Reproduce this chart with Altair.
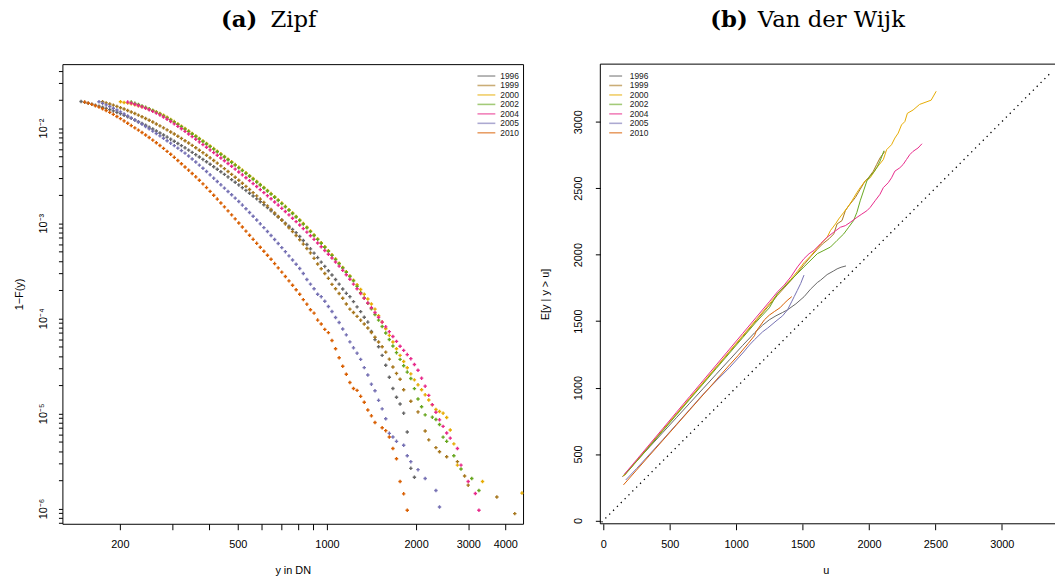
import altair as alt
import pandas as pd

FONT = "Liberation Sans"
SERIF = "DejaVu Serif"

YEARS = ["1996", "1999", "2000", "2002", "2004", "2005", "2010"]
PALETTE = ["#666666", "#A6761D", "#E6AB02", "#66A61E", "#E7298A", "#7570B3", "#D95F02"]

# log10 of the DN bin positions used for the tail estimate
log_dn = [
    2.1700, 2.1821, 2.1942, 2.2063, 2.2184, 2.2305, 2.2426, 2.2547, 2.2668, 2.2789,
    2.2910, 2.3031, 2.3152, 2.3273, 2.3394, 2.3515, 2.3636, 2.3757, 2.3878, 2.3999,
    2.4120, 2.4241, 2.4362, 2.4483, 2.4604, 2.4725, 2.4846, 2.4967, 2.5088, 2.5209,
    2.5330, 2.5451, 2.5572, 2.5693, 2.5814, 2.5935, 2.6056, 2.6177, 2.6298, 2.6419,
    2.6540, 2.6661, 2.6782, 2.6903, 2.7024, 2.7145, 2.7266, 2.7387, 2.7508, 2.7629,
    2.7750, 2.7871, 2.7992, 2.8113, 2.8234, 2.8355, 2.8476, 2.8597, 2.8718, 2.8839,
    2.8960, 2.9081, 2.9202, 2.9323, 2.9444, 2.9565, 2.9686, 2.9807, 2.9928, 3.0049,
    3.0170, 3.0291, 3.0412, 3.0533, 3.0654, 3.0775, 3.0896, 3.1017, 3.1138, 3.1259,
    3.1380, 3.1501, 3.1622, 3.1743, 3.1864, 3.1985, 3.2106, 3.2227, 3.2348, 3.2469,
    3.2590, 3.2711, 3.2832, 3.2953, 3.3074, 3.3195, 3.3316, 3.3437, 3.3558, 3.3679,
    3.3800, 3.3921, 3.4042, 3.4163, 3.4284, 3.4405, 3.4526, 3.4647, 3.4768, 3.4889,
    3.5010, 3.5131, 3.5252, 3.5373, 3.5494, 3.5615, 3.5736, 3.5857, 3.5978, 3.6099,
    3.6220, 3.6341, 3.6462, 3.6583,
]

# log10(1 - F(y)) per bin, starting at bin index *_first (None = empty bin)
zipf_1996_first = 0
zipf_1996 = [
    -1.721, -1.730, -1.739, -1.749, -1.759, -1.770, -1.781, -1.793, -1.806, -1.820,
    -1.834, -1.849, -1.865, -1.881, -1.898, -1.915, -1.933, -1.951, -1.970, -1.990,
    -2.010, -2.031, -2.052, -2.073, -2.095, -2.117, -2.139, -2.162, -2.185, -2.208,
    -2.232, -2.256, -2.280, -2.305, -2.330, -2.355, -2.381, -2.407, -2.433, -2.460,
    -2.487, -2.514, -2.542, -2.570, -2.598, -2.627, -2.656, -2.685, -2.715, -2.745,
    -2.775, -2.806, -2.837, -2.869, -2.904, -2.935, -2.967, -3.000, -3.033, -3.066,
    -3.100, -3.140, -3.182, -3.225, -3.270, -3.315, -3.362, -3.410, -3.455, -3.500,
    -3.545, -3.592, -3.641, -3.693, -3.738, -3.773, -3.825, -3.880, -3.930, -3.990,
    -4.040, -4.138, -4.225, -4.300, -4.390, -4.494, -4.620, -4.738, -4.831, -4.901,
    -4.998, -5.196, -5.578, -5.672,
]

zipf_1999_first = 6
zipf_1999 = [
    -1.724, -1.735, -1.747, -1.759, -1.772, -1.786, -1.800, -1.815, -1.831, -1.847,
    -1.864, -1.881, -1.899, -1.918, -1.937, -1.957, -1.977, -1.998, -2.019, -2.041,
    -2.063, -2.086, -2.109, -2.133, -2.157, -2.182, -2.207, -2.233, -2.259, -2.286,
    -2.313, -2.341, -2.369, -2.398, -2.427, -2.457, -2.487, -2.518, -2.549, -2.581,
    -2.613, -2.646, -2.679, -2.713, -2.747, -2.782, -2.818, -2.855, -2.892, -2.930,
    -2.969, -3.008, -3.048, -3.089, -3.130, -3.175, -3.220, -3.266, -3.313, -3.370,
    -3.430, -3.480, -3.530, -3.580, -3.644, -3.690, -3.740, -3.790, -3.850, -3.904,
    -3.940, -3.980, -4.020, -4.060, -4.102, -4.150, -4.200, -4.250, -4.300, -4.356,
    -4.430, -4.513, -4.580, -4.641, -4.752, None, -4.873, None, -4.985, None,
    -5.185, -5.279, None, -5.360, -5.404, None, -5.456, None, None, -5.508,
    None, -5.658, -5.755, None, None, None, None, None, None, None,
    -5.880, None, None, None, None, -6.054,
]

zipf_2000_first = 11
zipf_2000 = [
    -1.724, -1.731, -1.738, -1.746, -1.755, -1.765, -1.776, -1.788, -1.801, -1.815,
    -1.830, -1.846, -1.866, -1.887, -1.909, -1.932, -1.956, -1.980, -2.005, -2.031,
    -2.057, -2.083, -2.109, -2.135, -2.162, -2.189, -2.216, -2.243, -2.271, -2.299,
    -2.327, -2.355, -2.384, -2.413, -2.442, -2.471, -2.501, -2.531, -2.562, -2.593,
    -2.624, -2.656, -2.689, -2.722, -2.755, -2.789, -2.823, -2.858, -2.893, -2.929,
    -2.966, -3.004, -3.043, -3.083, -3.124, -3.165, -3.206, -3.248, -3.290, -3.333,
    -3.377, -3.421, -3.465, -3.510, -3.555, -3.601, -3.648,
    -3.697, -3.747, -3.798, -3.850, -3.904, -3.972, -4.040, -4.110, -4.180, -4.250,
    -4.321, -4.390, -4.455, -4.520, -4.585, -4.648, -4.700, -4.752, -4.805, -4.860,
    -4.910, -4.960, -4.980, -4.998, -5.044, -5.175, -5.321, -5.544, None, None,
    None, None, None, None, -5.717, None, None, None, None, None,
    None, None, None, None, None, -5.838,
]

zipf_2002_first = 14
zipf_2002 = [
    -1.727, -1.740, -1.753, -1.767, -1.782, -1.798, -1.815, -1.833, -1.852, -1.872,
    -1.893, -1.915, -1.938, -1.962, -1.986, -2.011, -2.037, -2.063, -2.089, -2.115,
    -2.141, -2.168, -2.195, -2.222, -2.249, -2.277, -2.305, -2.333, -2.361, -2.390,
    -2.419, -2.448, -2.477, -2.507, -2.537, -2.568, -2.599, -2.630, -2.662, -2.695,
    -2.728, -2.761, -2.795, -2.829, -2.864, -2.899, -2.935, -2.972, -3.010, -3.049,
    -3.089, -3.130, -3.171, -3.212, -3.254, -3.296, -3.339, -3.383, -3.427, -3.471,
    -3.516, -3.561, -3.607, -3.665, -3.731, -3.787, -3.843, -3.900, -3.960, -4.019,
    -4.087, -4.155, -4.223, -4.292, -4.362, -4.432, -4.500, -4.566, -4.633, -4.740,
    -4.849, -4.930, -5.016, None, -5.040, -5.064, -5.117, -5.250, -5.294, None,
    -5.446, None, -5.585, None, None, -5.685, None, -5.811,
]

zipf_2004_first = 13
zipf_2004 = [
    -1.727, -1.738, -1.750, -1.763, -1.777, -1.792, -1.808, -1.825, -1.843, -1.862,
    -1.884, -1.907, -1.931, -1.956, -1.982, -2.008, -2.035, -2.062, -2.090, -2.118,
    -2.146, -2.174, -2.202, -2.230, -2.258, -2.286, -2.315, -2.344, -2.373, -2.402,
    -2.432, -2.462, -2.492, -2.522, -2.553, -2.584, -2.615, -2.647, -2.679, -2.711,
    -2.744, -2.777, -2.810, -2.844, -2.878, -2.913, -2.948, -2.984, -3.020, -3.057,
    -3.094, -3.132, -3.170, -3.209, -3.248, -3.287, -3.327, -3.367, -3.408, -3.452,
    -3.496, -3.542, -3.590, -3.641, -3.690, -3.740, -3.790, -3.840, -3.890, -3.940,
    -3.990, -4.040, -4.090, -4.141, -4.192, -4.243, -4.294, -4.338, -4.382, -4.425,
    -4.486, -4.547, -4.630, -4.714, -4.811, -4.908, -4.988, -5.068, -5.137, -5.206,
    -5.260, None, -5.370, -5.544, None, -5.717, None, -5.842, -6.019,
]

zipf_2005_first = 5
zipf_2005 = [
    -1.724, -1.740, -1.757, -1.774, -1.792, -1.810, -1.830, -1.851, -1.872, -1.893,
    -1.915, -1.937, -1.960, -1.984, -2.008, -2.032, -2.057, -2.082, -2.107, -2.133,
    -2.159, -2.185, -2.211, -2.237, -2.264, -2.294, -2.325, -2.357, -2.390, -2.423,
    -2.457, -2.492, -2.527, -2.562, -2.597, -2.632, -2.667, -2.702, -2.737, -2.772,
    -2.810, -2.849, -2.888, -2.927, -2.967, -3.007, -3.047, -3.088, -3.130, -3.172,
    -3.214, -3.257, -3.300, -3.344, -3.388, -3.432, -3.477, -3.529, -3.592, -3.641,
    -3.690, -3.748, -3.773, -3.821, -3.877, -3.929, -3.992, -4.044, -4.113, -4.175,
    -4.248, -4.311, -4.367, -4.432, -4.519, -4.596, -4.693, -4.762, -4.863, -4.953,
    -5.057, -5.210, -5.248, -5.294, None, -5.335, -5.446, -5.508, None, -5.592,
    None, -5.685, None, None, -5.811, -5.985,
]

zipf_2010_first = 1
zipf_2010 = [
    -1.727, -1.738, -1.751, -1.765, -1.780, -1.797, -1.815, -1.835, -1.856, -1.878,
    -1.901, -1.925, -1.950, -1.974, -1.998, -2.022, -2.047, -2.073, -2.100, -2.127,
    -2.155, -2.184, -2.214, -2.245, -2.276, -2.308, -2.341, -2.375, -2.409, -2.443,
    -2.478, -2.513, -2.549, -2.587, -2.626, -2.666, -2.706, -2.747, -2.788, -2.829,
    -2.871, -2.913, -2.955, -2.998, -3.041, -3.084, -3.127, -3.170, -3.212, -3.254,
    -3.296, -3.338, -3.380, -3.425, -3.470, -3.515, -3.561, -3.607, -3.653, -3.700,
    -3.748, -3.804, -3.852, -3.911, -3.946, -4.019, -4.061, -4.117, -4.151, -4.234,
    -4.321, -4.415, -4.505, -4.589, -4.675, -4.738, -4.758, -4.821, -4.883, -4.964,
    -5.026, -5.096, None, -5.151, -5.182, -5.248, -5.370, -5.477, -5.717, -5.846,
    -6.019,
]

# mean excess E[y | y > u] against threshold u
vdw_1996_u = [144, 250, 350, 450, 550, 650, 750, 850, 950, 1050, 1138, 1200, 1250,
              1300, 1350, 1387, 1450, 1512, 1560, 1611, 1636, 1685, 1735, 1760, 1790, 1827]
vdw_1996_v = [330, 446, 555, 664, 773, 882, 991, 1100, 1209, 1318, 1411, 1470, 1510,
              1540, 1565, 1585, 1630, 1684, 1740, 1790, 1808, 1850, 1878, 1893, 1905, 1915]

vdw_1999_u = [150, 250, 350, 450, 550, 650, 750, 850, 950, 1050, 1150, 1250, 1312, 1362,
              1412, 1462, 1511, 1561, 1611, 1650, 1700, 1735, 1760, 1797, 1822, 1847, 1897,
              1934, 1971, 1996, 2033, 2058, 2083, 2120]
vdw_1999_v = [332, 448, 565, 683, 800, 917, 1034, 1151, 1268, 1385, 1502, 1620, 1695, 1750,
              1805, 1862, 1925, 1985, 2040, 2080, 2120, 2156, 2231, 2256, 2330, 2367, 2429,
              2492, 2554, 2578, 2628, 2678, 2727, 2777]

vdw_2000_u = [150, 250, 350, 450, 550, 650, 750, 850, 950, 1050, 1150, 1250, 1312, 1362,
              1412, 1462, 1511, 1561, 1611, 1650, 1685, 1710, 1748, 1772, 1810, 1847, 1872,
              1909, 1934, 1971, 2009, 2058, 2108, 2133, 2170, 2195, 2220, 2245, 2270, 2289,
              2332, 2381, 2468, 2506]
vdw_2000_v = [333, 447, 565, 683, 801, 919, 1037, 1155, 1273, 1391, 1510, 1630, 1705, 1760,
              1815, 1875, 1940, 1990, 2050, 2095, 2131, 2181, 2231, 2268, 2318, 2367, 2405,
              2467, 2504, 2554, 2578, 2653, 2715, 2790, 2827, 2877, 2914, 2976, 3001, 3063,
              3088, 3130, 3162, 3229]

vdw_2002_u = [160, 250, 350, 450, 550, 650, 750, 850, 950, 1050, 1150, 1250, 1312, 1412,
              1511, 1611, 1661, 1710, 1760, 1810, 1847, 1884, 1909, 1934, 1959, 1984, 2009,
              2033, 2058, 2083, 2113]
vdw_2002_v = [340, 444, 560, 677, 793, 910, 1026, 1143, 1259, 1376, 1492, 1600, 1709, 1808,
              1908, 2007, 2032, 2057, 2107, 2156, 2206, 2256, 2318, 2405, 2479, 2554, 2591,
              2616, 2653, 2703, 2782]

vdw_2004_u = [160, 250, 350, 450, 550, 650, 750, 850, 950, 1050, 1150, 1250, 1312, 1362,
              1412, 1462, 1511, 1549, 1586, 1636, 1685, 1735, 1785, 1822, 1859, 1909, 1946,
              1984, 2009, 2046, 2083, 2108, 2145, 2170, 2195, 2232, 2257, 2282, 2307, 2332,
              2369, 2399]
vdw_2004_v = [349, 456, 575, 694, 813, 932, 1051, 1170, 1289, 1408, 1527, 1646, 1721, 1771,
              1833, 1908, 1970, 2007, 2032, 2082, 2131, 2169, 2206, 2218, 2243, 2280, 2305,
              2330, 2355, 2405, 2454, 2504, 2541, 2578, 2628, 2653, 2678, 2715, 2752, 2777,
              2802, 2834]

vdw_2005_u = [169, 250, 350, 450, 550, 650, 750, 850, 950, 1050, 1100, 1138, 1200, 1238,
              1300, 1350, 1387, 1420, 1437, 1460, 1486, 1511]
vdw_2005_v = [305, 390, 500, 610, 722, 835, 948, 1050, 1150, 1260, 1320, 1360, 1420, 1448,
              1500, 1540, 1585, 1650, 1684, 1730, 1783, 1846]

vdw_2010_u = [152, 250, 350, 450, 550, 650, 750, 850, 950, 1014, 1089, 1138, 1151, 1213,
              1250, 1288, 1330, 1362, 1390, 1419]
vdw_2010_v = [268, 379, 492, 605, 718, 831, 944, 1057, 1170, 1240, 1330, 1390, 1423, 1510,
              1545, 1572, 1600, 1634, 1660, 1684]

# axis ticks
x_ticks_zipf = [200, 300, 400, 500, 600, 700, 800, 900, 1000, 2000, 3000, 4000]
x_labels_zipf = [200, 500, 1000, 2000, 3000, 4000]
y_ticks_zipf = [0.04, 0.03, 0.02, 0.01,
                0.009, 0.008, 0.007, 0.006, 0.005, 0.004, 0.003, 0.002, 0.001,
                0.0009, 0.0008, 0.0007, 0.0006, 0.0005, 0.0004, 0.0003, 0.0002, 0.0001,
                0.00009, 0.00008, 0.00007, 0.00006, 0.00005, 0.00004, 0.00003, 0.00002, 0.00001,
                0.000009, 0.000008, 0.000007, 0.000006, 0.000005, 0.000004, 0.000003, 0.000002,
                0.000001, 0.0000009, 0.0000008, 0.0000007]
vdw_ticks = [0, 500, 1000, 1500, 2000, 2500, 3000]

# ---------------------------------------------------------------- tables
zipf_series = [
    ("1996", zipf_1996_first, zipf_1996),
    ("1999", zipf_1999_first, zipf_1999),
    ("2000", zipf_2000_first, zipf_2000),
    ("2002", zipf_2002_first, zipf_2002),
    ("2004", zipf_2004_first, zipf_2004),
    ("2005", zipf_2005_first, zipf_2005),
    ("2010", zipf_2010_first, zipf_2010),
]
rows = []
for year, first, vals in zipf_series:
    for i, lv in enumerate(vals):
        if lv is None:
            continue
        rows.append({"year": year, "dn": 10 ** log_dn[first + i], "ccdf": 10 ** lv})
zipf_df = pd.DataFrame(rows)

vdw_series = [
    ("1996", vdw_1996_u, vdw_1996_v),
    ("1999", vdw_1999_u, vdw_1999_v),
    ("2000", vdw_2000_u, vdw_2000_v),
    ("2002", vdw_2002_u, vdw_2002_v),
    ("2004", vdw_2004_u, vdw_2004_v),
    ("2005", vdw_2005_u, vdw_2005_v),
    ("2010", vdw_2010_u, vdw_2010_v),
]
rows = []
for year, us, vs in vdw_series:
    for i, (u, v) in enumerate(zip(us, vs)):
        rows.append({"year": year, "u": u, "v": v, "i": i})
vdw_df = pd.DataFrame(rows)

one = pd.DataFrame({"k": [0]})

# ---------------------------------------------------------------- sizes
W_L, W_R, H = 465, 455, 464

color = alt.Color("year:N", scale=alt.Scale(domain=YEARS, range=PALETTE), legend=None)

axis_common = dict(
    grid=False, domain=False, tickColor="black", tickWidth=1,
    labelColor="black", titleColor="black", labelFont=FONT, titleFont=FONT,
    labelFontSize=11, titleFontSize=11, titleFontWeight="normal",
    labelOverlap=False, labelFlush=False, labelBound=False,
)


def legend_layers(x_line, x_line2, x_text):
    """Small line legend drawn inside the panel's top corner."""
    out = []
    for row, (yr, col) in enumerate(zip(YEARS, PALETTE)):
        py = 12 + 9.55 * row
        out.append(alt.Chart(one).mark_rule(color=col, strokeWidth=1.6, opacity=0.6).encode(
            x=alt.value(x_line), x2=alt.value(x_line2), y=alt.value(py)))
        out.append(alt.Chart(one).mark_text(
            text=yr, align="left", baseline="middle", font=FONT, fontSize=8.5, color="#222222"
        ).encode(x=alt.value(x_text), y=alt.value(py)))
    return out


def heading(tag, name, x_tag, x_name):
    a = alt.Chart(one).mark_text(
        text=tag, font=SERIF, fontSize=23, fontWeight="bold", align="left",
        baseline="middle", color="black"
    ).encode(x=alt.value(x_tag), y=alt.value(-44))
    b = alt.Chart(one).mark_text(
        text=name, font=SERIF, fontSize=23, align="left", baseline="middle", color="black"
    ).encode(x=alt.value(x_name), y=alt.value(-44))
    return [a, b]


# ---------------------------------------------------------------- (a) Zipf
y_label_expr = (
    "datum.value == 0.01 ? '10\u207b\u00b2' : datum.value == 0.001 ? '10\u207b\u00b3' : "
    "datum.value == 0.0001 ? '10\u207b\u2074' : datum.value == 0.00001 ? '10\u207b\u2075' : "
    "datum.value == 0.000001 ? '10\u207b\u2076' : ''"
)
x_label_expr = "indexof(%s, datum.value) >= 0 ? '' + datum.value : ''" % str(x_labels_zipf)

zipf_points = alt.Chart(zipf_df).mark_point(
    shape="cross", filled=True, size=12, opacity=1
).encode(
    x=alt.X("dn:Q",
            scale=alt.Scale(type="log", domain=[10 ** 2.107, 10 ** 3.662], nice=False),
            axis=alt.Axis(values=x_ticks_zipf, labelExpr=x_label_expr, title="y in DN",
                          tickSize=6, labelPadding=9, titleY=47, titleBaseline="middle",
                          **axis_common)),
    y=alt.Y("ccdf:Q",
            scale=alt.Scale(type="log", domain=[10 ** -6.161, 10 ** -1.328], nice=False),
            axis=alt.Axis(values=y_ticks_zipf, labelExpr=y_label_expr, title="1\u2212F(y)",
                          tickSize=4, labelPadding=10, labelAngle=270, labelAlign="center",
                          labelBaseline="bottom", titleX=-38, titleY=H / 2,
                          **axis_common)),
    color=color,
)

panel_a = alt.layer(
    zipf_points, *legend_layers(419, 437, 442), *heading("(a)", "Zipf", 160, 210)
).properties(width=W_L, height=H)

# ---------------------------------------------------------------- (b) Van der Wijk
u_dom = [-22.4, -22.4 + W_R / 0.1341]
v_dom = [-24.6, 3433]

u_axis = alt.Axis(values=vdw_ticks, format="d", title="u", tickSize=6, labelPadding=9,
                  titleY=47, titleBaseline="middle", **axis_common)
v_axis = alt.Axis(values=vdw_ticks, format="d", title="E[y | y > u]", tickSize=5,
                  labelPadding=12, labelAngle=270, labelAlign="center",
                  labelBaseline="bottom", titleX=-50, titleY=H / 2, **axis_common)

diag = alt.Chart(pd.DataFrame({"u": [-100, 3600], "v": [-100, 3600]})).mark_line(
    color="black", strokeWidth=1.3, strokeDash=[1.3, 4.2], clip=True
).encode(
    x=alt.X("u:Q", scale=alt.Scale(domain=u_dom, nice=False, zero=False), axis=u_axis),
    y=alt.Y("v:Q", scale=alt.Scale(domain=v_dom, nice=False, zero=False), axis=v_axis),
)

vdw_lines = alt.Chart(vdw_df).mark_line(strokeWidth=1, clip=True).encode(
    x=alt.X("u:Q"),
    y=alt.Y("v:Q"),
    color=color,
    order=alt.Order("i:Q"),
)

frame_top = alt.Chart(one).mark_rule(color="black", strokeWidth=1).encode(
    x=alt.value(0), x2=alt.value(W_R + 4), y=alt.value(0))
frame_bottom = alt.Chart(one).mark_rule(color="black", strokeWidth=1).encode(
    x=alt.value(0), x2=alt.value(W_R + 4), y=alt.value(H))
frame_left = alt.Chart(one).mark_rule(color="black", strokeWidth=1).encode(
    x=alt.value(0), y=alt.value(0), y2=alt.value(H))

panel_b = alt.layer(
    diag, vdw_lines, frame_top, frame_bottom, frame_left,
    *legend_layers(9, 22, 29.7), *heading("(b)", "Van der Wijk", 111, 159)
).properties(width=W_R, height=H, view=alt.ViewBackground(stroke="transparent"))

chart = alt.hconcat(panel_a, panel_b, spacing=14).properties(
    padding={"left": 13, "top": 6, "right": 0, "bottom": 0},
    background="white",
).configure_view(stroke="black", strokeWidth=1).configure_concat(spacing=14)

chart.save("out.html", embed_options={"renderer": "svg", "actions": False})
